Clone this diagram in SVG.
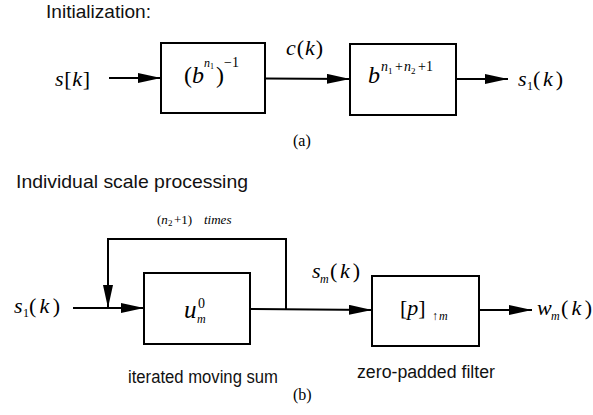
<svg xmlns="http://www.w3.org/2000/svg" width="593" height="415" viewBox="0 0 593 415">
<style>
.box{fill:none;stroke:#000;stroke-width:2}
.ln{fill:none;stroke:#000;stroke-width:2}
.h{font-family:"Liberation Sans",Arial,sans-serif;font-size:17.5px;fill:#111}
.m{font-family:"Liberation Serif","Times New Roman",serif;font-size:22px;fill:#000}
.i{font-style:italic}
.sup{font-family:"Liberation Serif","Times New Roman",serif;font-size:14px;fill:#000}
.sub{font-family:"Liberation Serif","Times New Roman",serif;font-size:12px;fill:#000}
.cap{font-family:"Liberation Serif","Times New Roman",serif;font-size:16px;fill:#000}
</style>
<defs>
<marker id="ah" markerUnits="userSpaceOnUse" markerWidth="24" markerHeight="11" refX="23" refY="5" orient="auto">
<path d="M0,0 L23,5 L0,10 z" fill="#000"/>
</marker>
</defs>
<rect width="593" height="415" fill="#fff"/>
<text class="h" x="46" y="18" style="font-size:18.5px" textLength="105" lengthAdjust="spacingAndGlyphs">Initialization:</text>
<text class="h" x="16" y="188" style="font-size:19px" textLength="232" lengthAdjust="spacingAndGlyphs">Individual scale processing</text>

<g id="connectors">
<line class="ln" x1="109" y1="78" x2="161" y2="78" marker-end="url(#ah)"/>
<line class="ln" x1="265" y1="78.5" x2="350" y2="79" marker-end="url(#ah)"/>
<line class="ln" x1="456" y1="79" x2="508" y2="79" marker-end="url(#ah)"/>
<line class="ln" x1="73" y1="308" x2="144" y2="308" marker-end="url(#ah)"/>
<polyline class="ln" points="286,309 286,239 108,239 108,308" marker-end="url(#ah)"/>
<line class="ln" x1="250" y1="309" x2="372" y2="310" marker-end="url(#ah)"/>
<line class="ln" x1="479" y1="310" x2="532" y2="310" marker-end="url(#ah)"/>
</g>

<g id="input-s">
<text class="m" x="55" y="86" textLength="35" lengthAdjust="spacing"><tspan class="i">s</tspan>[<tspan class="i">k</tspan>]</text>
</g>
<g id="box-inv">
<rect class="box" x="161" y="43" width="104" height="70"/>
<text class="m" x="184" y="83" style="font-size:24px">(<tspan class="i">b</tspan></text>
<text class="sup i" x="204" y="67" style="font-size:12px">n</text>
<text class="sub" x="210" y="69" style="font-size:8px">1</text>
<text class="m" x="216" y="83" style="font-size:24px">)</text>
<text class="sup" x="224" y="67">−1</text>
</g>
<g id="label-c">
<text class="m" x="286" y="55" textLength="37" lengthAdjust="spacing"><tspan class="i">c</tspan>(<tspan class="i">k</tspan>)</text>
</g>
<g id="box-b">
<rect class="box" x="350" y="44" width="106" height="71"/>
<text class="m i" x="368" y="83" style="font-size:24px">b</text>
<text class="sup i" x="381" y="71">n</text>
<text class="sub" x="388" y="74" style="font-size:9px">1</text>
<text class="sup" x="395" y="71">+</text>
<text class="sup i" x="404" y="71">n</text>
<text class="sub" x="411" y="74" style="font-size:9px">2</text>
<text class="sup" x="418" y="71">+1</text>
</g>
<g id="output-s1">
<text class="m i" x="518" y="86">s</text>
<text class="sub" x="527" y="90">1</text>
<text class="m" x="533" y="86" textLength="30" lengthAdjust="spacing">(<tspan class="i">k</tspan>)</text>
</g>
<text class="cap" x="293" y="146">(a)</text>

<g id="loop-label">
<text class="sup" x="157" y="224" style="font-size:13px">(<tspan class="i">n</tspan></text>
<text class="sub" x="168" y="226" style="font-size:9px">2</text>
<text class="sup" x="174" y="224" style="font-size:13px">+1)</text>
<text class="sup i" x="204" y="224" style="font-size:13px">times</text>
</g>
<g id="input-s1">
<text class="m i" x="14" y="313">s</text>
<text class="sub" x="23" y="317">1</text>
<text class="m" x="29" y="313" textLength="31" lengthAdjust="spacing">(<tspan class="i">k</tspan>)</text>
</g>
<g id="box-u">
<rect class="box" x="144" y="273" width="106" height="71"/>
<text class="m i" x="184" y="318" style="font-size:25px">u</text>
<text class="sup" x="198" y="308">0</text>
<text class="sub i" x="197" y="323">m</text>
<text class="h" x="128" y="383" textLength="150" lengthAdjust="spacingAndGlyphs">iterated moving sum</text>
</g>
<g id="label-sm">
<text class="m i" x="312" y="278">s</text>
<text class="sub i" x="320" y="283">m</text>
<text class="m" x="330" y="278" textLength="30" lengthAdjust="spacing">(<tspan class="i">k</tspan>)</text>
</g>
<g id="box-p">
<rect class="box" x="372" y="276" width="107" height="70"/>
<text class="m" x="400" y="315">[<tspan class="i">p</tspan>]</text>
<text class="sub" x="432" y="320">↑</text>
<text class="sub i" x="439" y="320">m</text>
<text class="h" x="357" y="378" style="font-size:18px" textLength="138" lengthAdjust="spacingAndGlyphs">zero-padded filter</text>
</g>
<g id="output-wm">
<text class="m i" x="537" y="315">w</text>
<text class="sub i" x="551" y="320">m</text>
<text class="m" x="561" y="315" textLength="31" lengthAdjust="spacing">(<tspan class="i">k</tspan>)</text>
</g>
<text class="cap" x="293" y="400">(b)</text>
</svg>
